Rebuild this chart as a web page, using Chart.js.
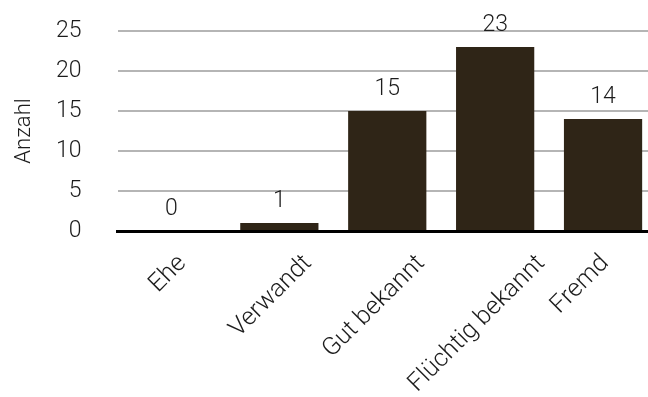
<!DOCTYPE html>
<html>
<head>
<meta charset="utf-8">
<script src="https://cdn.jsdelivr.net/npm/chart.js@4"></script>
<style>
  html, body { margin: 0; padding: 0; background: #fff; overflow: hidden; }
  #wrap { position: relative; width: 657px; height: 397px; }
</style>
</head>
<body>
<div id="wrap"><canvas id="c"></canvas></div>
<script>
const categories = ['Ehe', 'Verwandt', 'Gut bekannt', 'Flüchtig bekannt', 'Fremd'];
const counts = [0, 1, 15, 23, 14];
const yTicks = [0, 5, 10, 15, 20, 25];

const FONT = 'Roboto, "Liberation Sans", sans-serif';
const TEXT = '#1c1c1c';

// value labels above each bar
const valueLabels = {
  id: 'valueLabels',
  afterDatasetsDraw(chart) {
    const ctx = chart.ctx;
    const meta = chart.getDatasetMeta(0);
    ctx.save();
    ctx.font = '300 23px ' + FONT;
    ctx.fillStyle = TEXT;
    ctx.textAlign = 'center';
    ctx.textBaseline = 'alphabetic';
    meta.data.forEach((bar, i) => {
      ctx.fillText(String(counts[i]), bar.x, bar.y - 16);
    });
    ctx.restore();
  }
};

// slanted category labels, their upper ends lined up just under the axis
const slantedLabels = {
  id: 'slantedLabels',
  afterDraw(chart) {
    const ctx = chart.ctx;
    const area = chart.chartArea;
    const step = (area.right - area.left) / categories.length * 0.955;
    const size = 25;
    const topY = 253;
    ctx.save();
    ctx.font = '300 ' + size + 'px ' + FONT;
    ctx.fillStyle = TEXT;
    ctx.textAlign = 'center';
    ctx.textBaseline = 'middle';
    categories.forEach((label, i) => {
      const w = ctx.measureText(label).width;
      const cx = area.left + (i + 0.5) * step - 1;
      const cy = topY + (w + size * 0.75) * Math.SQRT1_2 / 2;
      ctx.save();
      ctx.translate(cx, cy);
      ctx.rotate(-Math.PI / 4);
      ctx.fillText(label, 0, 0);
      ctx.restore();
    });
    ctx.restore();
  }
};

new Chart(document.getElementById('c'), {
  type: 'bar',
  data: {
    labels: categories,
    datasets: [{
      data: counts,
      backgroundColor: '#2f2517',
      borderWidth: 0,
      categoryPercentage: 1,
      barPercentage: 0.725
    }]
  },
  options: {
    responsive: true,
    maintainAspectRatio: false,
    animation: false,
    layout: { padding: { top: 31, right: 0, left: 0, bottom: 0 } },
    plugins: { legend: { display: false }, tooltip: { enabled: false } },
    scales: {
      x: {
        grid: { display: false, drawTicks: false },
        border: { display: true, color: '#000', width: 3 },
        ticks: { display: false },
        afterFit(scale) { scale.height = 166; }
      },
      y: {
        min: 0, max: 25,
        afterBuildTicks(scale) { scale.ticks = yTicks.map(v => ({ value: v })); },
        grid: { color: '#b5b5b5', lineWidth: 2, drawTicks: false },
        border: { display: false },
        ticks: {
          color: TEXT,
          font: { family: FONT, size: 23, weight: '300' },
          padding: 36
        },
        title: {
          display: true,
          text: 'Anzahl',
          color: TEXT,
          font: { family: FONT, size: 22, weight: '300' },
          padding: { top: 11, bottom: 0 }
        },
        afterFit(scale) {
          scale.width = 117.5;
          // the tick padding would otherwise push the plot area down
          scale.paddingTop = 0;
          scale.paddingBottom = 0;
        }
      }
    }
  },
  plugins: [valueLabels, slantedLabels]
});
</script>
</body>
</html>
